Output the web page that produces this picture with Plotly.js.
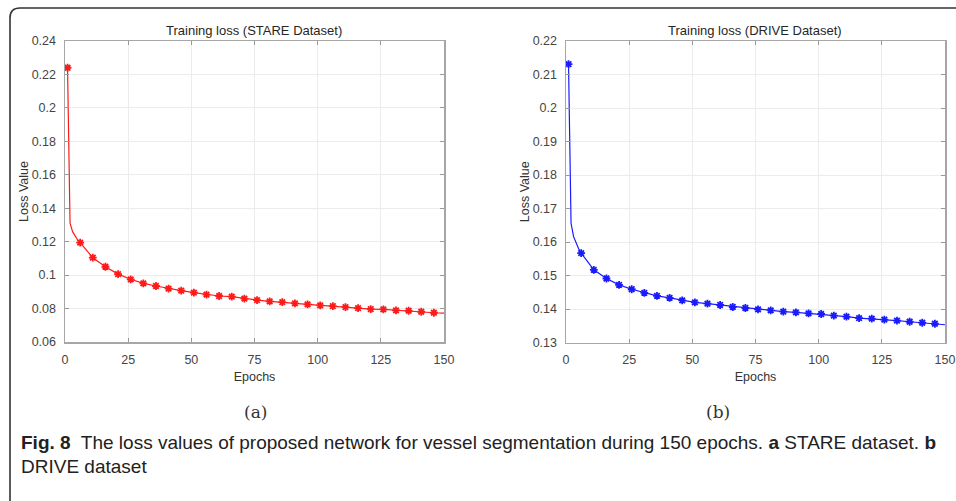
<!DOCTYPE html>
<html>
<head>
<meta charset="utf-8">
<script src="https://cdn.plot.ly/plotly-3.0.1.min.js"></script>
<style>html,body{margin:0;padding:0;background:#fff;}#chart{width:956px;height:501px;}</style>
</head>
<body>
<div id="chart"></div>
<script>
// ---- data ----
const markerEpochs = [1,6,11,16,21,26,31,36,41,46,51,56,61,66,71,76,81,86,91,96,101,106,111,116,121,126,131,136,141,146];
const earlyEpochs = [2,3,4,5];
const lastEpoch = [150];

const stareMarkers = [0.224,0.1194,0.1104,0.105,0.1006,0.0975,0.0951,0.0935,0.0919,0.0907,0.0895,0.0883,0.0875,0.0871,0.0859,0.0851,0.0843,0.0839,0.0831,0.0825,0.0819,0.0815,0.0809,0.0803,0.0797,0.0795,0.0789,0.0787,0.0781,0.0775];
const stareEarly = [0.131,0.126,0.1234,0.121];
const stareLast = [0.0773];

const driveMarkers = [0.2131,0.1567,0.1517,0.1491,0.1472,0.1459,0.1448,0.1439,0.1433,0.1426,0.1420,0.1416,0.1412,0.1406,0.1403,0.1399,0.1396,0.1392,0.1390,0.1387,0.1385,0.1380,0.1377,0.1373,0.1371,0.1368,0.1365,0.1362,0.1359,0.1356];
const driveEarly = [0.1656,0.1616,0.1595,0.158];
const driveLast = [0.1353];

const xTicks = [0,25,50,75,100,125,150];
const titles = ['Training loss (STARE Dataset)','Training loss (DRIVE Dataset)'];
const subLabels = ['(a)','(b)'];
const captionLine1 = '<b>Fig. 8</b>  The loss values of proposed network for vessel segmentation during 150 epochs. <b>a</b> STARE dataset. <b>b</b>';
const captionLine2 = 'DRIVE dataset';

// ---- build ----
const W = 956, H = 501;
const px = x => x / W;
const py = y => 1 - y / H;

const lineX = [markerEpochs[0]].concat(earlyEpochs, markerEpochs.slice(1), lastEpoch);
const stareLineY = [stareMarkers[0]].concat(stareEarly, stareMarkers.slice(1), stareLast);
const driveLineY = [driveMarkers[0]].concat(driveEarly, driveMarkers.slice(1), driveLast);

const red = '#ff1a1a', blue = '#1a1aff';
const traces = [
  {x: lineX, y: stareLineY, xaxis:'x', yaxis:'y', mode:'lines', line:{color:red, width:1.2}, hoverinfo:'skip'},
  {x: markerEpochs, y: stareMarkers, xaxis:'x', yaxis:'y', mode:'markers',
   marker:{symbol:'asterisk-open', size:6.5, color:red, line:{color:red, width:1.8}}},
  {x: lineX, y: driveLineY, xaxis:'x2', yaxis:'y2', mode:'lines', line:{color:blue, width:1.2}, hoverinfo:'skip'},
  {x: markerEpochs, y: driveMarkers, xaxis:'x2', yaxis:'y2', mode:'markers',
   marker:{symbol:'asterisk-open', size:6.5, color:blue, line:{color:blue, width:1.8}}}
];

const tickFont = {family:'Liberation Sans, Arial, sans-serif', size:12.5, color:'#444'};
const labFont = {family:'Liberation Sans, Arial, sans-serif', size:12.5, color:'#333'};
function xAxis(domain, anchor){
  return {domain, anchor, range:[0,150], tickvals:xTicks, ticks:'inside', ticklen:4, tickcolor:'#999',
    showline:true, linecolor:'#a6a6a6', linewidth:1.5, mirror:'ticks', showgrid:true, gridcolor:'#ececec',
    zeroline:false, tickfont:tickFont, ticklabelstandoff:5,
    title:{text:'Epochs', font:labFont, standoff:6}};
}
function yAxis(domain, anchor, range, dtick){
  return {domain, anchor, range, dtick, tick0:range[0], ticks:'inside', ticklen:4, tickcolor:'#999',
    showline:true, linecolor:'#a6a6a6', linewidth:1.5, mirror:'ticks', showgrid:true, gridcolor:'#ececec',
    zeroline:false, tickfont:tickFont, ticklabelstandoff:5,
    title:{text:'Loss Value', font:labFont, standoff:0}};
}

const titleFont = {family:'Liberation Sans, Arial, sans-serif', size:13, color:'#262626'};
const serifFont = {family:'DejaVu Serif, Liberation Serif, serif', size:17, color:'#333'};
const capFont = {family:'Liberation Sans, Arial, sans-serif', size:19, color:'#222'};

const annotations = [
  {text:titles[0], x:px(254), y:py(31), xref:'paper', yref:'paper', showarrow:false, xanchor:'center', yanchor:'middle', font:titleFont},
  {text:titles[1], x:px(755), y:py(31), xref:'paper', yref:'paper', showarrow:false, xanchor:'center', yanchor:'middle', font:titleFont},
  {text:subLabels[0], x:px(255), y:py(412), xref:'paper', yref:'paper', showarrow:false, xanchor:'center', yanchor:'middle', font:serifFont},
  {text:subLabels[1], x:px(718), y:py(412), xref:'paper', yref:'paper', showarrow:false, xanchor:'center', yanchor:'middle', font:serifFont},
  {text:captionLine1, x:px(19), y:py(442), xref:'paper', yref:'paper', showarrow:false, xanchor:'left', yanchor:'middle', font:capFont},
  {text:captionLine2, x:px(19), y:py(466), xref:'paper', yref:'paper', showarrow:false, xanchor:'left', yanchor:'middle', font:capFont}
];

const framePath = `M ${px(10)} ${py(501)} L ${px(10)} ${py(18)} Q ${px(10)} ${py(8)} ${px(20)} ${py(8)} L ${px(956)} ${py(8)}`;

const layout = {
  width: W, height: H,
  margin:{l:0, r:0, t:0, b:0},
  paper_bgcolor:'#fff', plot_bgcolor:'#fff',
  showlegend:false,
  xaxis: xAxis([px(65), px(444)], 'y'),
  yaxis: yAxis([py(342), py(41)], 'x', [0.06,0.24], 0.02),
  xaxis2: xAxis([px(566), px(945)], 'y2'),
  yaxis2: yAxis([py(342.5), py(41)], 'x2', [0.13,0.22], 0.01),
  annotations,
  shapes:[{type:'path', xref:'paper', yref:'paper', path:framePath, line:{color:'#333', width:1.6}}]
};

Plotly.newPlot('chart', traces, layout, {displayModeBar:false, staticPlot:true});
</script>
</body>
</html>
